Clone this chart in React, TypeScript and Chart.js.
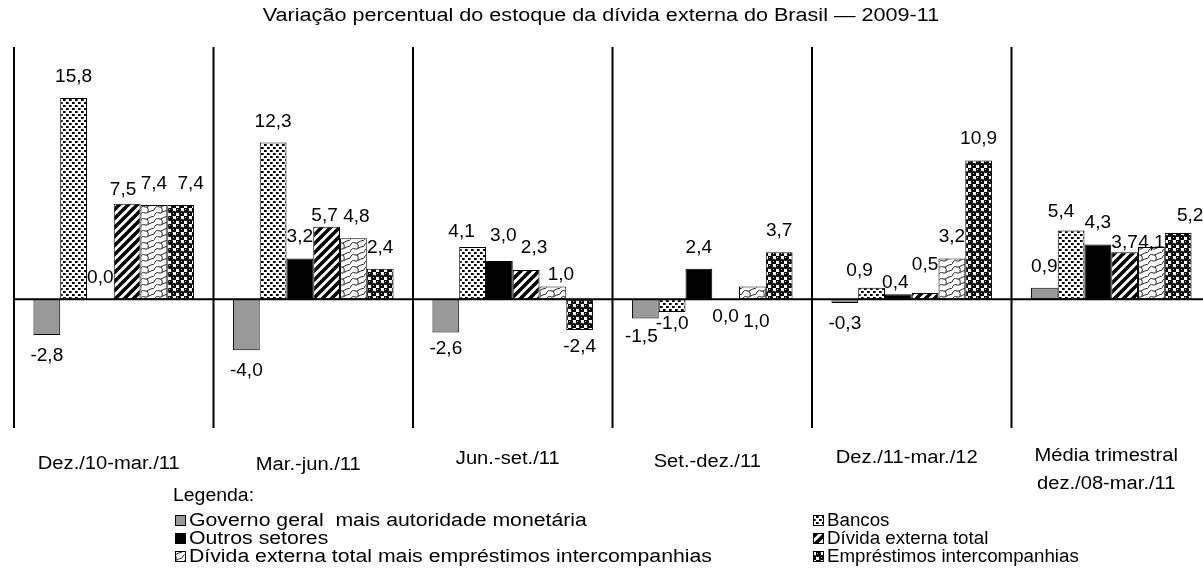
import React, { useEffect, useRef } from "react";
import { Chart, registerables } from "chart.js";

Chart.register(...registerables);

// ---------- DATA ----------
const title = "Variação percentual do estoque da dívida externa do Brasil — 2009-11";
const categories: string[][] = [
  ["Dez./10-mar./11"],
  ["Mar.-jun./11"],
  ["Jun.-set./11"],
  ["Set.-dez./11"],
  ["Dez./11-mar./12"],
  ["Média trimestral", "dez./08-mar./11"],
];
const seriesNames = [
  "Governo geral  mais autoridade monetária",
  "Bancos",
  "Outros setores",
  "Dívida externa total",
  "Dívida externa total mais empréstimos intercompanhias",
  "Empréstimos intercompanhias",
];
const governo = [-2.8, -4.0, -2.6, -1.5, -0.3, 0.9];
const bancos = [15.8, 12.3, 4.1, -1.0, 0.9, 5.4];
const outros = [0.0, 3.2, 3.0, 2.4, 0.4, 4.3];
const dividaTotal = [7.5, 5.7, 2.3, 0.0, 0.5, 3.7];
const dividaMaisEmp = [7.4, 4.8, 1.0, 1.0, 3.2, 4.1];
const emprestimos = [7.4, 2.4, -2.4, 3.7, 10.9, 5.2];
const legendTitle = "Legenda:";
const yMin = -10.1;
const yMax = 19.8;

// ---------- STYLE / LAYOUT ----------
const FONT = '"Liberation Sans", Arial, Helvetica, sans-serif';
const CANVAS_W = 1220;
const CANVAS_H = 583;
// label nudges (px) keyed "group-series": [dx, dy, placeBelowZero]
const labelNudge: Record<string, [number, number, boolean?]> = {
  "0-3": [-4, 7],
  "0-5": [10, 0],
  "1-3": [-2, 10],
  "1-4": [3, 0],
  "2-0": [0, -4],
  "2-1": [-11, 6],
  "2-2": [4, -4],
  "2-3": [8, -1],
  "2-4": [8, 9],
  "2-5": [0, -4],
  "3-0": [-4, -2],
  "3-1": [0, -9],
  "3-3": [0, -3, true],
  "3-4": [4, 2, true],
  "4-1": [-12, 4],
  "4-2": [-3, 10],
  "4-3": [0, -7],
  "5-1": [-10, 3],
  "5-3": [0, 12],
  "5-4": [0, 17],
  "5-5": [12, 4],
};
const catLabelDy = [0, 1, -5, -2, -6, -8];

function makeTile(w: number, h: number, draw: (c: CanvasRenderingContext2D) => void) {
  const cv = document.createElement("canvas");
  cv.width = w;
  cv.height = h;
  const c = cv.getContext("2d")!;
  draw(c);
  return cv;
}

function makePatterns(ctx: CanvasRenderingContext2D) {
  const gray = "#999999";
  const dots = makeTile(6, 6, (c) => {
    c.fillStyle = "#fff";
    c.fillRect(0, 0, 6, 6);
    c.fillStyle = "#000";
    c.fillRect(0, 0, 2, 2);
    c.fillRect(3, 3, 2, 2);
    c.fillStyle = "#555";
    c.fillRect(2, 0, 1, 2);
    c.fillRect(5, 3, 1, 2);
  });
  const stripes = makeTile(9, 9, (c) => {
    c.fillStyle = "#fff";
    c.fillRect(0, 0, 9, 9);
    c.strokeStyle = "#000";
    c.lineWidth = 3.6;
    for (const o of [-9, 0, 9]) {
      c.beginPath();
      c.moveTo(o - 1, 10);
      c.lineTo(o + 10, -1);
      c.stroke();
    }
  });
  const scales = makeTile(14, 12, (c) => {
    c.fillStyle = "#fff";
    c.fillRect(0, 0, 14, 12);
    c.strokeStyle = "#222";
    c.lineWidth = 1;
    c.beginPath();
    c.moveTo(0, 6);
    c.quadraticCurveTo(2, 1, 5, 3);
    c.lineTo(7, 3);
    c.quadraticCurveTo(10, 1, 14, 0);
    c.stroke();
    c.beginPath();
    c.moveTo(0, 12);
    c.quadraticCurveTo(2, 7, 5, 9);
    c.lineTo(7, 9);
    c.quadraticCurveTo(10, 7, 14, 6);
    c.stroke();
    c.beginPath();
    c.moveTo(7, 3);
    c.quadraticCurveTo(9, 5, 8, 8);
    c.stroke();
  });
  const balls = makeTile(8, 8, (c) => {
    c.fillStyle = "#fff";
    c.fillRect(0, 0, 8, 8);
    c.fillStyle = "#000";
    for (const [x, y] of [[2, 2], [6, 6]]) {
      c.beginPath();
      c.arc(x, y, 3, 0, Math.PI * 2);
      c.fill();
    }
    c.fillStyle = "#bbb";
    c.fillRect(1, 1, 1, 1);
    c.fillRect(5, 5, 1, 1);
  });
  return [
    gray,
    ctx.createPattern(dots, "repeat")!,
    "#000000",
    ctx.createPattern(stripes, "repeat")!,
    ctx.createPattern(scales, "repeat")!,
    ctx.createPattern(balls, "repeat")!,
  ];
}

const fmt = (v: number) => v.toFixed(1).replace(".", ",");

function drawText(c: CanvasRenderingContext2D, text: string, x: number, y: number, sx: number) {
  c.save();
  c.translate(x, y);
  c.scale(sx, 1);
  c.fillText(text, 0, 0);
  c.restore();
}

export default function App() {
  const ref = useRef<HTMLCanvasElement>(null);

  useEffect(() => {
    const canvas = ref.current!;
    const ctx = canvas.getContext("2d")!;
    const fills = makePatterns(ctx);
    const series = [governo, bancos, outros, dividaTotal, dividaMaisEmp, emprestimos];

    const decor = {
      id: "decor",
      afterDatasetsDraw(chart: any) {
        const c = chart.ctx as CanvasRenderingContext2D;
        const area = chart.chartArea;
        const xs = chart.scales.x;
        const ys = chart.scales.y;
        const n = categories.length;
        const gw = (area.right - area.left) / n;
        c.save();
        c.strokeStyle = "#000";
        c.lineWidth = 2;
        for (let i = 0; i <= n; i++) {
          const x = area.left + i * gw;
          c.beginPath();
          c.moveTo(x, area.top);
          c.lineTo(x, area.bottom);
          c.stroke();
        }
        const y0 = ys.getPixelForValue(0);
        c.beginPath();
        c.moveTo(area.left - 1, y0);
        c.lineTo(area.right, y0);
        c.stroke();

        // value labels
        c.fillStyle = "#000";
        c.font = `18px ${FONT}`;
        c.textAlign = "center";
        c.textBaseline = "middle";
        chart.data.datasets.forEach((ds: any, si: number) => {
          const meta = chart.getDatasetMeta(si);
          meta.data.forEach((el: any, gi: number) => {
            const v = ds.data[gi] as number;
            const nudge = labelNudge[`${gi}-${si}`] || [0, 0, false];
            const below = v < 0 || nudge[2];
            const top = Math.min(el.y, el.base);
            const bot = Math.max(el.y, el.base);
            const y = below ? bot + 21 : top - 21;
            drawText(c, fmt(v), el.x + nudge[0], y + nudge[1], 1.06);
          });
        });

        // category labels
        c.font = `18px ${FONT}`;
        categories.forEach((lines, i) => {
          const x = xs.getPixelForValue(i) - 5;
          lines.forEach((ln, k) => {
            drawText(c, ln, x, area.bottom + 36 + catLabelDy[i] + k * 28, 1.12);
          });
        });

        // title
        c.font = `18px ${FONT}`;
        drawText(c, title, 601, 16, 1.2);

        // legend
        c.textAlign = "left";
        c.font = `18px ${FONT}`;
        drawText(c, legendTitle, 173, 496, 1.08);
        const colX = [175, 813];
        seriesNames.forEach((name, i) => {
          const col = i % 2;
          const row = Math.floor(i / 2);
          const bx = colX[col];
          const by = 520 + row * 18;
          c.fillStyle = fills[i] as any;
          c.fillRect(bx, by - 5, 10, 10);
          c.strokeStyle = "#000";
          c.lineWidth = 1;
          c.strokeRect(bx + 0.5, by - 4.5, 10, 10);
          c.fillStyle = "#000";
          drawText(c, name, bx + 14, by + 1, col === 0 ? 1.18 : 1.04);
        });
        c.restore();
      },
    };

    const chart = new Chart(ctx, {
      type: "bar",
      data: {
        labels: categories.map((l) => l.join(" ")),
        datasets: series.map((d, i) => ({
          label: seriesNames[i],
          data: d,
          backgroundColor: fills[i] as any,
          borderColor: "#000",
          borderWidth: 1,
          borderSkipped: false,
          categoryPercentage: 0.805,
          barPercentage: 1,
        })),
      },
      options: {
        responsive: false,
        animation: false,
        devicePixelRatio: 1,
        layout: { padding: { left: 14, right: CANVAS_W - 1211, top: 47, bottom: CANVAS_H - 428 } },
        plugins: { legend: { display: false }, tooltip: { enabled: false }, title: { display: false } },
        scales: {
          x: { display: false, grid: { display: false } },
          y: { display: false, min: yMin, max: yMax, grid: { display: false } },
        },
      },
      plugins: [decor],
    });
    return () => chart.destroy();
  }, []);

  return (
    <div style={{ position: "absolute", left: 0, top: 0, width: 1203, height: 583, overflow: "hidden", background: "#fff" }}>
      <canvas ref={ref} width={CANVAS_W} height={CANVAS_H} style={{ display: "block", width: CANVAS_W, height: CANVAS_H }} />
    </div>
  );
}
